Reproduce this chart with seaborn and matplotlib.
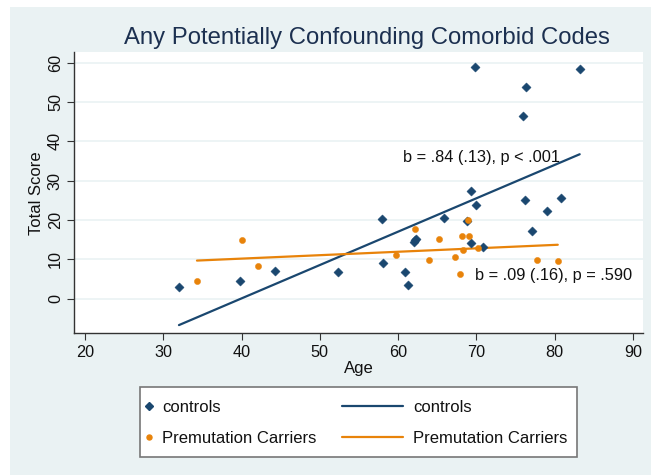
import numpy as np
import pandas as pd
import matplotlib
matplotlib.use("Agg")
import matplotlib.pyplot as plt
from matplotlib.lines import Line2D
from matplotlib.patches import Rectangle
import seaborn as sns

# values
control_age = [32.0, 39.8, 44.3, 52.3, 58.0, 58.1, 60.9, 61.3, 62.0, 62.3,
               62.1, 65.8, 68.8, 69.3, 69.3, 70.0, 70.8, 69.8, 75.9, 76.2,
               76.4, 77.1, 79.0, 80.8, 83.2]
control_score = [3.0, 4.5, 7.1, 6.9, 20.3, 9.1, 6.9, 3.6, 14.5, 15.2,
                 14.9, 20.4, 19.7, 14.1, 27.3, 23.9, 13.2, 59.0, 46.4, 25.2,
                 53.9, 17.3, 22.2, 25.7, 58.3]
carrier_age = [34.3, 40.0, 42.1, 59.7, 62.1, 64.0, 65.2, 67.25, 67.85, 68.2,
               68.3, 68.9, 69.1, 70.2, 77.8, 80.4]
carrier_score = [4.5, 14.9, 8.3, 11.0, 17.6, 9.9, 15.1, 10.5, 6.4, 16.0,
                 12.3, 20.1, 16.0, 12.9, 9.9, 9.5]
group_names = ["controls", "Premutation Carriers"]
x_ticks = [20, 30, 40, 50, 60, 70, 80, 90]
y_ticks = [0, 10, 20, 30, 40, 50, 60]
note_controls = "b = .84 (.13), p < .001"
note_carriers = "b = .09 (.16), p = .590"

navy = "#1a476f"
orange = "#e8830a"
bg = "#eaf2f3"

df = pd.concat([
    pd.DataFrame({"Age": control_age, "Score": control_score, "group": group_names[0]}),
    pd.DataFrame({"Age": carrier_age, "Score": carrier_score, "group": group_names[1]}),
])

sns.set_style("white")
plt.rcParams["font.family"] = ["Liberation Sans", "DejaVu Sans"]

W, H = 651, 475
fig = plt.figure(figsize=(W / 100, H / 100), dpi=100)
fig.patches.append(Rectangle((10 / W, 0), 1, 1 - 7 / H, transform=fig.transFigure,
                             facecolor=bg, edgecolor="none", zorder=-10))
ax = fig.add_axes([74 / W, 1 - 333.3 / H, (642.7 - 74) / W, (333.3 - 52.3) / H])
ax.set_facecolor("white")

# fitted lines
sns.regplot(data=df[df.group == group_names[0]], x="Age", y="Score", scatter=False, ci=None,
            truncate=True, color=navy, line_kws={"lw": 1.6, "zorder": 2}, ax=ax)
sns.regplot(data=df[df.group == group_names[1]], x="Age", y="Score", scatter=False, ci=None,
            truncate=True, color=orange, line_kws={"lw": 1.6, "zorder": 2}, ax=ax)

# points
sns.scatterplot(data=df[df.group == group_names[0]], x="Age", y="Score", marker="D", s=22,
                color=navy, edgecolor=navy, linewidth=0.3, ax=ax, zorder=3)
sns.scatterplot(data=df[df.group == group_names[1]], x="Age", y="Score", marker="o", s=20,
                color=orange, edgecolor=orange, linewidth=0.3, ax=ax, zorder=3)

ax.set_xlim(18.59, 91.25)
ax.set_ylim(-8.8, 62.65)
ax.set_xticks(x_ticks)
ax.set_yticks(y_ticks)
ax.grid(axis="y", color=bg, lw=1.2)
ax.grid(axis="x", visible=False)
for s in ["top", "right"]:
    ax.spines[s].set_visible(False)
for s in ["left", "bottom"]:
    ax.spines[s].set_color("#333333")
    ax.spines[s].set_linewidth(1.0)
ax.tick_params(axis="both", direction="out", length=5, width=0.8, color="#333333",
               labelsize=11.7, labelcolor="#111111", bottom=True, left=True)
ax.tick_params(axis="y", pad=3)
plt.setp(ax.get_yticklabels(), rotation=90, va="center")
ax.set_xlabel("Age", fontsize=12, color="#111111", labelpad=1)
ax.set_ylabel("Total Score", fontsize=12, color="#111111", labelpad=3)

ax.text(60.6, 35.85, note_controls, fontsize=11.8, va="center", ha="left", color="#111111")
ax.text(69.8, 5.77, note_carriers, fontsize=11.8, va="center", ha="left", color="#111111")

fig.text(367 / W, 1 - 38 / H, "Any Potentially Confounding Comorbid Codes",
         fontsize=17.2, color="#1c3050", ha="center", va="center")

# legend: one frame, two columns with different handle widths
fig.patches.append(Rectangle((140 / W, 1 - 457 / H), (577 - 140) / W, (457 - 387) / H,
                             transform=fig.transFigure, facecolor="white",
                             edgecolor="#777777", lw=1.2, zorder=1))
mark_handles = [
    Line2D([], [], marker="D", color=navy, ls="none", ms=3.6),
    Line2D([], [], marker="o", color=orange, ls="none", ms=3.6),
]
line_handles = [
    Line2D([], [], color=navy, lw=1.6),
    Line2D([], [], color=orange, lw=1.6),
]
common = dict(loc="center left", fontsize=12, frameon=False, labelspacing=0.95,
              borderpad=0, borderaxespad=0)
leg1 = fig.legend(mark_handles, group_names, bbox_to_anchor=(144.3 / W, 1 - 423 / H),
                  handlelength=0.6, handletextpad=0.45, **common)
leg2 = fig.legend(line_handles, group_names, bbox_to_anchor=(341.7 / W, 1 - 423 / H),
                  handlelength=3.66, handletextpad=0.63, **common)
for leg in (leg1, leg2):
    leg.set_zorder(2)
    for t in leg.get_texts():
        t.set_color("#111111")

fig.savefig("out.png", dpi=100)
